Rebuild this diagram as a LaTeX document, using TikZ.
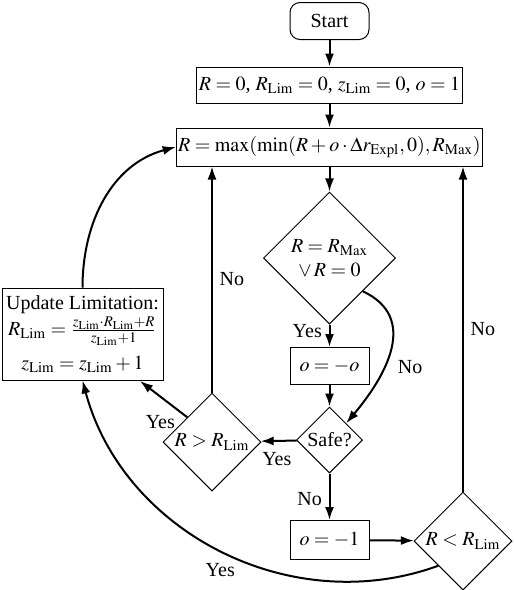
\documentclass[tikz,border=0pt]{standalone}
\usepackage{mathptmx}
\usepackage{fontspec}
\setmainfont{Liberation Serif}
\usepackage{tikz}
\usetikzlibrary{arrows.meta}
\usetikzlibrary{shapes.geometric}
\tikzset{>={Latex[length=6.5pt,width=4.5pt]}}
\tikzset{box/.style={draw,rectangle,line width=0.5pt,inner sep=1pt,minimum height=18.5pt,align=center},
  decision/.style={draw,diamond,line width=0.5pt,inner sep=0pt,align=center}}
\newcommand{\sLim}{\mathrm{Lim}}

\begin{document}
\begin{tikzpicture}[x=0.5pt,y=-0.5pt,line width=1.0pt]
  \useasboundingbox (0,0) rectangle (514,590);
  \def\xmid{329.5}

  % main column
  \node[box,rounded corners=5pt,minimum width=39.5pt]
    (start) at (\xmid,21) {Start};
  \node[box,minimum width=126.5pt,minimum height=18pt]
    (init) at (\xmid,85) {$R = 0$, $R_{\sLim} = 0$, $z_{\sLim} = 0$, $o = 1$};
  \node[box,minimum width=148.5pt,minimum height=19pt]
    (upd) at (\xmid,147) {$R = \max(\min(R + o\cdot\Delta r_{\mathrm{Expl}}, 0), R_{\mathrm{Max}})$};
  \node[decision,minimum width=66pt,minimum height=66pt]
    (bound) at (\xmid,258) {$R = R_{\mathrm{Max}}$\\$\vee\, R = 0$};
  \node[box,minimum width=39.5pt]
    (flip) at (\xmid,366) {$o = -o$};
  \node[decision,minimum width=33pt,minimum height=33pt]
    (safe) at (\xmid,440) {Safe?};
  \node[box,minimum width=39.5pt,minimum height=19.5pt]
    (back) at (\xmid,540) {$o = -1$};

  % side decisions
  \node[decision,minimum width=49pt,minimum height=49pt]
    (above) at (212,442) {$R > R_{\sLim}$};
  \node[decision,minimum width=49pt,minimum height=49pt]
    (below) at (463,541) {$R < R_{\sLim}$};
  \node[box,minimum width=80.5pt,minimum height=46pt]
    (limit) at (82.5,334) {Update Limitation:\\[1pt]
      $R_{\sLim} = \frac{z_{\sLim}\cdot R_{\sLim}+R}{z_{\sLim}+1}$\\[5pt]
      $z_{\sLim} = z_{\sLim} + 1$};

  % straight arrows
  \draw[->] (start) -- (init);
  \draw[->] (init) -- (upd);
  \draw[->] (upd) -- (bound);
  \draw[->] (bound) -- node[pos=0.3,left] {Yes} (flip);
  \draw[->] (flip) -- (safe);
  \draw[->] (safe) -- node[pos=0.55,below,yshift=-2pt] {Yes} (above);
  \draw[->] (safe) -- node[pos=0.55,left] {No} (back);
  \draw[->] (back) -- (below);
  \draw[->] (above.north) -- node[right,pos=0.5] {No} (above.north |- upd.south);
  \draw[->] (below.north) -- node[right,pos=0.5] {No} (below.north |- upd.south);
  \draw[->] (above.north west) -- node[pos=0.1,left,yshift=-4pt] {Yes} (140,381);

  % curved arrows
  \draw[->] (bound.south east) to[out=-25,in=50,looseness=1.2] node[right,pos=0.62,xshift=3pt] {No} (safe.north east);
  \draw[->] (below.south west) to[out=200,in=-75] node[below,pos=0.5,yshift=-3pt] {Yes} (limit.south);
  \draw[->] (limit.north) to[out=90,in=195] (upd.west);
\end{tikzpicture}
\end{document}
